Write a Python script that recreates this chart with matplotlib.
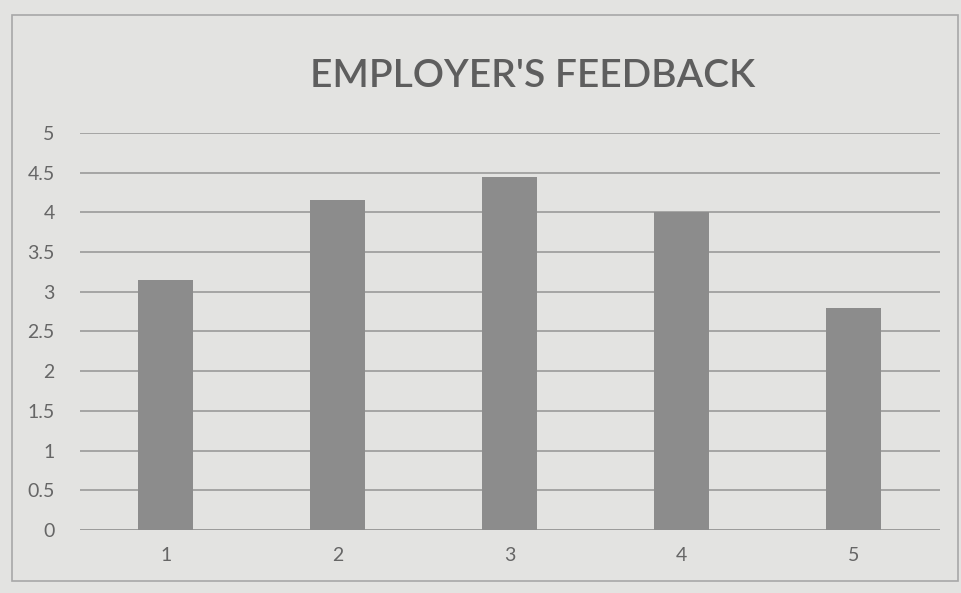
import matplotlib.pyplot as plt
import numpy as np
from matplotlib.patches import Rectangle

categories = ['1', '2', '3', '4', '5']
scores = [3.15, 4.15, 4.45, 4.0, 2.8]
y_ticks = [0, 0.5, 1, 1.5, 2, 2.5, 3, 3.5, 4, 4.5, 5]

plt.rcParams['font.family'] = ['Lato', 'DejaVu Sans']

fig = plt.figure(figsize=(9.61, 5.93), dpi=100, facecolor='#e3e3e1')
ax = fig.add_axes([0.083, 0.106, 0.895, 0.67], facecolor='#e3e3e1')

# outer chart frame
fig.patches.append(Rectangle((0.012, 0.02), 0.985, 0.955, transform=fig.transFigure,
                             fill=False, edgecolor='#a8a8a8', linewidth=1.2))

x = np.arange(len(categories))
ax.bar(x, scores, width=0.32, color='#8c8c8c', zorder=3)

ax.set_ylim(0, 5)
ax.set_xlim(-0.5, len(categories) - 0.5)
ax.set_yticks(y_ticks)
ax.set_yticklabels([('%g' % v) for v in y_ticks])
ax.set_xticks(x)
ax.set_xticklabels(categories)
ax.tick_params(axis='both', length=0, labelsize=14, labelcolor='#666666')
ax.tick_params(axis='y', pad=18)
ax.tick_params(axis='x', pad=12)

ax.grid(axis='y', color='#9a9a9a', linewidth=1.2, zorder=0)
for s in ax.spines.values():
    s.set_visible(False)
ax.axhline(0, color='#9a9a9a', linewidth=1.2, zorder=1)

fig.text(0.554, 0.872, "EMPLOYER'S FEEDBACK", ha='center', va='center',
         fontsize=28, color='#5e5e5e', fontweight='semibold')

fig.savefig('out.png', dpi=100, facecolor=fig.get_facecolor())
